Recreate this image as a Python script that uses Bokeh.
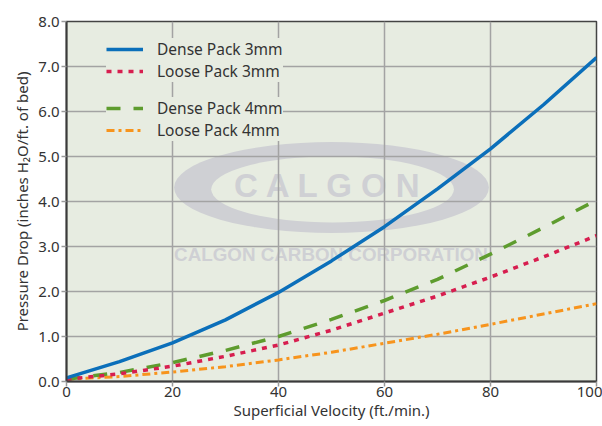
from bokeh.plotting import figure
from bokeh.models import Range1d, FixedTicker, Legend, LegendItem
from bokeh.core.properties import value
from bokeh.embed import file_html
from bokeh.resources import INLINE

# ---------------- data ----------------
velocity = [0, 10, 20, 30, 40, 50, 60, 70, 80, 90, 100]
dense_3mm = [0.08, 0.44, 0.86, 1.37, 1.98, 2.68, 3.44, 4.28, 5.17, 6.15, 7.20]
loose_3mm = [0.05, 0.17, 0.34, 0.56, 0.81, 1.14, 1.52, 1.90, 2.32, 2.77, 3.24]
dense_4mm = [0.05, 0.20, 0.42, 0.69, 1.00, 1.38, 1.80, 2.27, 2.83, 3.42, 4.03]
loose_4mm = [0.05, 0.11, 0.21, 0.33, 0.48, 0.65, 0.85, 1.05, 1.27, 1.50, 1.73]

series_labels = ["Dense Pack 3mm", "Loose Pack 3mm", "Dense Pack 4mm", "Loose Pack 4mm"]
x_ticks = [0, 20, 40, 60, 80, 100]
y_ticks = [0, 1, 2, 3, 4, 5, 6, 7, 8]
y_tick_labels = ["0.0", "1.0", "2.0", "3.0", "4.0", "5.0", "6.0", "7.0", "8.0"]
x_title = "Superficial Velocity (ft./min.)"
y_title = "Pressure Drop (inches H\u2082O/ft. of bed)"
watermark_big = "C A L G O N"
watermark_small = "CALGON CARBON CORPORATION"

# ---------------- style ----------------
BG = "#e7ece1"
WM = "#cfd0d4"
GRID = "#a3a3a3"
TXT = "#333333"
FONT = "Noto Sans"

p = figure(width=602, height=426, output_backend="svg", toolbar_location=None,
           title=None, x_range=Range1d(0, 100), y_range=Range1d(0, 8),
           min_border_left=66, min_border_right=6, min_border_top=21,
           min_border_bottom=45)
p.background_fill_color = BG
p.border_fill_color = "white"
p.outline_line_color = "#444444"
p.outline_line_width = 1.5

# watermark (below the grid)
p.ellipse(x=[50], y=[4.31], width=[59.4], height=[2.02], fill_color=WM,
          line_color=None, level="image")
p.ellipse(x=[50.2], y=[4.27], width=[45.8], height=[1.47], fill_color=BG,
          line_color=None, level="image")
p.text(x=[49.4], y=[4.36], text=[watermark_big], text_align="center",
       text_baseline="middle", text_font=value("Liberation Sans"),
       text_font_style="bold", text_font_size="33px", text_color=WM, level="image")
p.text(x=[49.9], y=[2.83], text=[watermark_small], text_align="center",
       text_baseline="middle", text_font=value("Liberation Sans"),
       text_font_style="bold", text_font_size="18.8px", text_color=WM, level="image")

# grid
p.xgrid.ticker = FixedTicker(ticks=x_ticks)
p.ygrid.ticker = FixedTicker(ticks=y_ticks)
p.grid.grid_line_color = GRID
p.grid.grid_line_width = 1.5

# axes
p.xaxis.ticker = FixedTicker(ticks=x_ticks)
p.yaxis.ticker = FixedTicker(ticks=y_ticks)
p.yaxis.major_label_overrides = {t: l for t, l in zip(y_ticks, y_tick_labels)}
for ax in (p.xaxis, p.yaxis):
    ax.axis_line_color = "#3a3a3a"
    ax.axis_line_width = 2
    ax.major_tick_line_color = "#9a9a9a"
    ax.major_tick_line_width = 1.5
    ax.major_tick_out = 5
    ax.major_tick_in = 0
    ax.minor_tick_line_color = None
    ax.major_label_text_font = FONT
    ax.major_label_text_font_size = "15px"
    ax.major_label_text_color = TXT
    ax.axis_label_text_font = FONT
    ax.axis_label_text_font_size = "15px"
    ax.axis_label_text_font_style = "normal"
    ax.axis_label_text_color = TXT
p.xaxis.major_label_standoff = 0
p.yaxis.major_label_standoff = 2
p.xaxis.axis_label = x_title
p.xaxis.axis_label_standoff = 0
p.yaxis.axis_label = y_title
p.yaxis.axis_label_standoff = 3

# curves
r4 = p.line(velocity, loose_4mm, line_color="#f7941d", line_width=3, line_dash="8 4 3 4")
r3 = p.line(velocity, dense_4mm, line_color="#5e9c2e", line_width=3.5, line_dash="14 13")
r2 = p.line(velocity, loose_3mm, line_color="#d71e4f", line_width=3.5, line_dash="5 6")
r1 = p.line(velocity, dense_3mm, line_color="#0b6fba", line_width=3.5)

leg1 = Legend(items=[LegendItem(label=series_labels[0], renderers=[r1]),
                     LegendItem(label=series_labels[1], renderers=[r2])],
              location=(40, 299))
leg2 = Legend(items=[LegendItem(label=series_labels[2], renderers=[r3]),
                     LegendItem(label=series_labels[3], renderers=[r4])],
              location=(40, 240))
for leg in (leg1, leg2):
    leg.background_fill_color = BG
    leg.background_fill_alpha = 1
    leg.border_line_color = None
    leg.label_text_font = FONT
    leg.label_text_font_size = "15.5px"
    leg.label_text_color = TXT
    leg.glyph_width = 37
    leg.glyph_height = 16
    leg.label_height = 21
    leg.label_standoff = 14
    leg.padding = 4
    leg.spacing = 0
    leg.margin = 0
    p.add_layout(leg, "center")

open("out.html", "w").write(file_html(p, INLINE))
